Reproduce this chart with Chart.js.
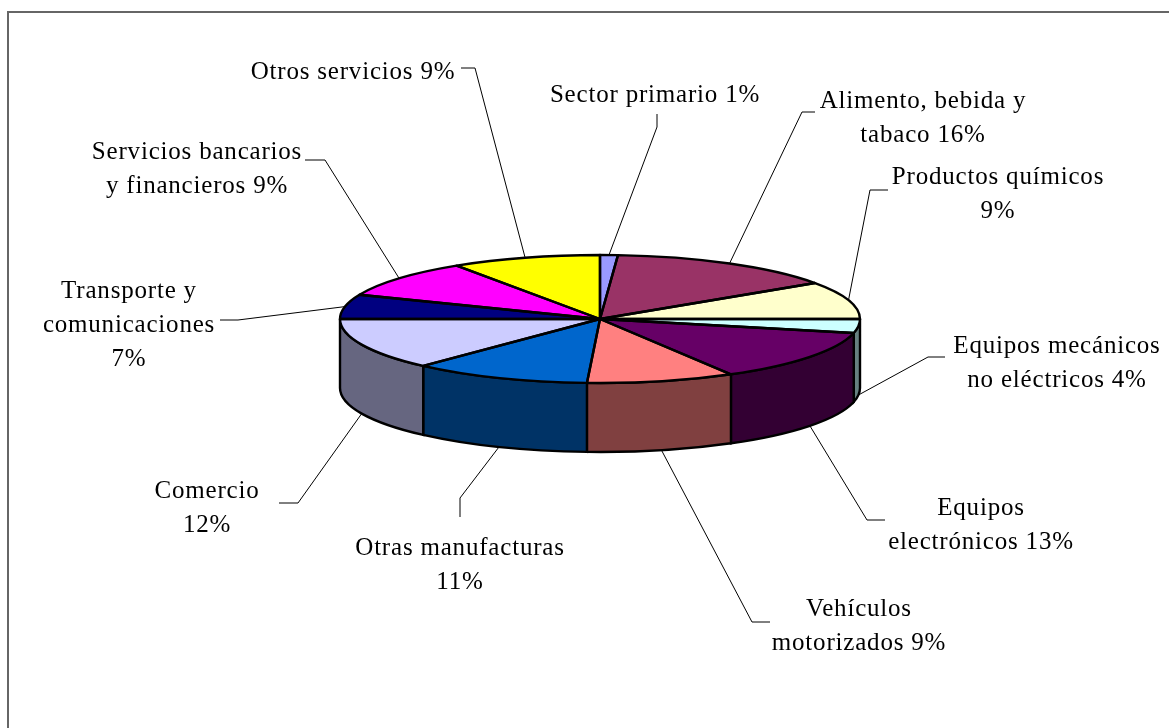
<!DOCTYPE html>
<html>
<head>
<meta charset="utf-8">
<style>
  html, body { margin: 0; padding: 0; background: #fff; }
  #wrap { position: absolute; left: 0; top: 0; width: 1169px; height: 728px; }
</style>
<script src="https://cdn.jsdelivr.net/npm/chart.js@4"></script>
</head>
<body>
<div id="wrap"><canvas id="pieChart" width="1169" height="728"></canvas></div>
<script>
// slice sizes are measured from the angles drawn in the picture,
// the printed percentages are only in labelLines
const categories = ['Sector primario', 'Alimento, bebida y tabaco', 'Productos químicos',
  'Equipos mecánicos no eléctricos', 'Equipos electrónicos', 'Vehículos motorizados',
  'Otras manufacturas', 'Comercio', 'Transporte y comunicaciones',
  'Servicios bancarios y financieros', 'Otros servicios'];
const sliceValues = [1.1, 14.4, 9.5, 3.5, 13.1, 9.2, 11.1, 13.1, 6.2, 9.5, 9.3];
const labelLines = [
  ['Sector primario 1%'],
  ['Alimento, bebida y', 'tabaco 16%'],
  ['Productos químicos', '9%'],
  ['Equipos mecánicos', 'no eléctricos 4%'],
  ['Equipos', 'electrónicos 13%'],
  ['Vehículos', 'motorizados 9%'],
  ['Otras manufacturas', '11%'],
  ['Comercio', '12%'],
  ['Transporte y', 'comunicaciones', '7%'],
  ['Servicios bancarios', 'y financieros 9%'],
  ['Otros servicios 9%']
];

const topColors = ['#9999FF', '#993366', '#FFFFCC', '#CCFFFF', '#660066', '#FF8080',
  '#0066CC', '#CCCCFF', '#000080', '#FF00FF', '#FFFF00'];
const sideColors = ['#4D4D80', '#4D1A33', '#808066', '#668080', '#330033', '#804040',
  '#003366', '#666680', '#000040', '#800080', '#808000'];

// label centre x, first line y
const labelPos = [[655, 93], [923, 99], [998, 175], [1057, 344], [981, 506], [859, 607],
  [460, 546], [207, 489], [129, 289], [197, 150], [353, 70]];
// leader line, from label to elbow; the last point is found on the slice rim
const leaderPts = [
  [[657, 114], [657, 127]],
  [[815, 112], [802, 112]],
  [[888, 190], [870, 190]],
  [[945, 357], [928, 357]],
  [[885, 520], [867, 520]],
  [[770, 622], [752, 622]],
  [[460, 517], [460, 498]],
  [[279, 503], [298, 503]],
  [[220, 320], [238, 320]],
  [[305, 160], [325, 160]],
  [[461, 68], [475, 68]]
];

const squash = 64 / 260;
const depth = 69;
const lineHeight = 34;
const outline = 2.4;

const pie3d = {
  id: 'pie3d',
  beforeDraw(chart) {
    // outer frame
    const c = chart.ctx;
    c.save();
    c.strokeStyle = '#666';
    c.lineWidth = 2;
    c.beginPath();
    c.moveTo(8, 728);
    c.lineTo(8, 12);
    c.lineTo(1169, 12);
    c.stroke();
    c.restore();
  },
  beforeDatasetsDraw(chart) {
    const c = chart.ctx;
    const arcs = chart.getDatasetMeta(0).data;
    const cx = arcs[0].x, cy = arcs[0].y, rx = arcs[0].outerRadius, ry = rx * squash;

    // side wall, only the front half of the rim shows
    c.save();
    c.lineWidth = outline;
    c.strokeStyle = '#000';
    arcs.forEach((a, i) => {
      const s = Math.max(a.startAngle, 0), e = Math.min(a.endAngle, Math.PI);
      if (s >= e) return;
      c.beginPath();
      c.ellipse(cx, cy, rx, ry, 0, s, e);
      c.ellipse(cx, cy + depth, rx, ry, 0, e, s, true);
      c.closePath();
      c.fillStyle = sideColors[i];
      c.fill();
      c.stroke();
    });
    c.restore();

    // flatten the library's own arcs into the top face
    c.save();
    c.translate(cx, cy);
    c.scale(1, squash);
    c.translate(-cx, -cy);
  },
  afterDatasetsDraw(chart) {
    const c = chart.ctx;
    c.restore();
    const arcs = chart.getDatasetMeta(0).data;
    const cx = arcs[0].x, cy = arcs[0].y, rx = arcs[0].outerRadius, ry = rx * squash;

    c.save();
    c.lineWidth = outline;
    c.strokeStyle = '#000';
    c.lineJoin = 'round';
    arcs.forEach(a => {
      c.beginPath();
      c.moveTo(cx, cy);
      c.ellipse(cx, cy, rx, ry, 0, a.startAngle, a.endAngle);
      c.closePath();
      c.stroke();
    });
    c.restore();

    // leaders
    c.save();
    c.lineWidth = 1;
    c.strokeStyle = '#000';
    arcs.forEach((a, i) => {
      const mid = (a.startAngle + a.endAngle) / 2;
      const x = cx + rx * Math.cos(mid);
      let y = cy + ry * Math.sin(mid);
      if (Math.sin(mid) > 0) y += depth;
      const pts = leaderPts[i];
      c.beginPath();
      c.moveTo(pts[0][0], pts[0][1]);
      c.lineTo(pts[1][0], pts[1][1]);
      c.lineTo(x, y);
      c.stroke();
    });
    c.restore();

    // labels
    c.save();
    c.font = '25px "Liberation Serif"';
    c.letterSpacing = '0.8px';
    c.fillStyle = '#000';
    c.textAlign = 'center';
    c.textBaseline = 'middle';
    labelLines.forEach((lines, i) => {
      lines.forEach((t, j) => c.fillText(t, labelPos[i][0], labelPos[i][1] + 2 + j * lineHeight));
    });
    c.restore();
  }
};

const pieChart = new Chart(document.getElementById('pieChart').getContext('2d'), {
  type: 'pie',
  data: {
    labels: categories,
    datasets: [{
      data: sliceValues,
      backgroundColor: topColors,
      borderWidth: 0,
      radius: 260
    }]
  },
  options: {
    responsive: false,
    animation: false,
    events: [],
    layout: { padding: { left: 31, bottom: 90 } },
    plugins: {
      legend: { display: false },
      tooltip: { enabled: false }
    }
  },
  plugins: [pie3d]
});
</script>
</body>
</html>
